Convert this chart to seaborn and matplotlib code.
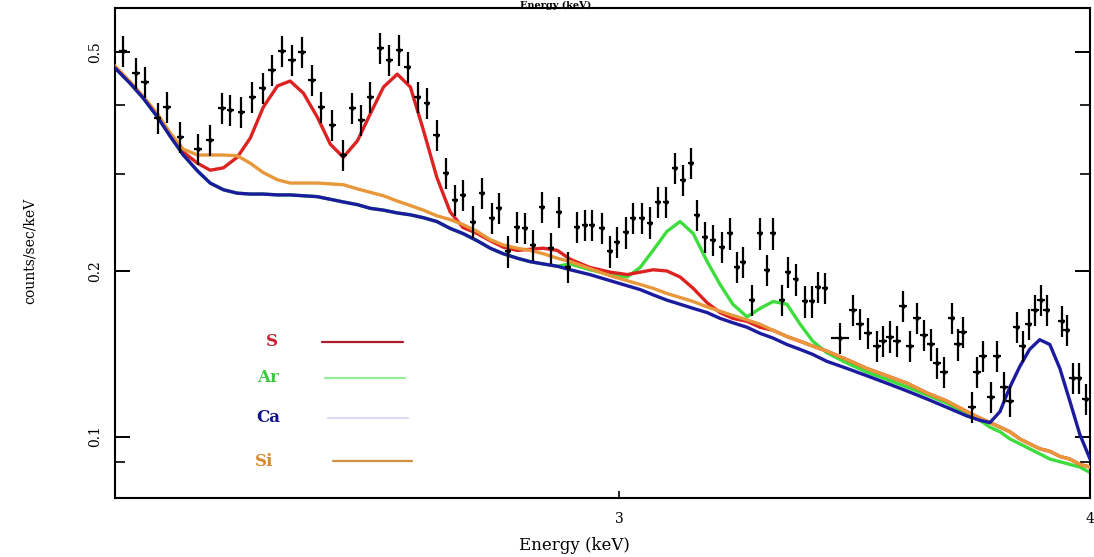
import matplotlib
matplotlib.use("Agg")
import matplotlib.pyplot as plt
import seaborn as sns
import numpy as np
import pandas as pd
from matplotlib.ticker import FixedLocator, FixedFormatter, NullLocator, NullFormatter
from matplotlib.lines import Line2D

# ---------------- data ----------------
energy = [2.216, 2.233, 2.246, 2.263, 2.276, 2.295, 2.320, 2.337, 2.354, 2.366,
          2.382, 2.398, 2.413, 2.427, 2.442, 2.457, 2.472, 2.487, 2.501, 2.518,
          2.535, 2.549, 2.563, 2.577, 2.593, 2.607, 2.623, 2.637, 2.653, 2.668,
          2.684, 2.699, 2.714, 2.727, 2.744, 2.759, 2.776, 2.788, 2.803, 2.819,
          2.833, 2.846, 2.862, 2.878, 2.892, 2.908, 2.924, 2.939, 2.951, 2.969,
          2.984, 2.996, 3.013, 3.026, 3.042, 3.057, 3.072, 3.087, 3.104, 3.120,
          3.135, 3.146, 3.162, 3.177, 3.195, 3.210, 3.224, 3.236, 3.254, 3.270,
          3.284, 3.296, 3.314, 3.326, 3.342, 3.361, 3.375, 3.388, 3.402, 3.433,
          3.461, 3.476, 3.493, 3.512, 3.525, 3.540, 3.555, 3.568, 3.583, 3.599,
          3.614, 3.630, 3.643, 3.659, 3.676, 3.690, 3.701, 3.722, 3.733, 3.747,
          3.765, 3.779, 3.795, 3.809, 3.825, 3.839, 3.853, 3.868, 3.882, 3.896,
          3.932, 3.944, 3.958, 3.973, 3.990]

counts = [0.502, 0.458, 0.441, 0.380, 0.397, 0.350, 0.333, 0.346, 0.396, 0.392,
          0.389, 0.414, 0.430, 0.464, 0.502, 0.484, 0.500, 0.445, 0.397, 0.369,
          0.325, 0.396, 0.376, 0.414, 0.509, 0.484, 0.504, 0.470, 0.414, 0.404,
          0.353, 0.301, 0.269, 0.275, 0.246, 0.277, 0.250, 0.260, 0.217, 0.240,
          0.239, 0.223, 0.261, 0.220, 0.256, 0.203, 0.240, 0.242, 0.242, 0.239,
          0.217, 0.226, 0.235, 0.250, 0.250, 0.245, 0.267, 0.267, 0.308, 0.293,
          0.314, 0.253, 0.231, 0.228, 0.221, 0.234, 0.203, 0.208, 0.177, 0.234,
          0.201, 0.234, 0.177, 0.199, 0.193, 0.176, 0.176, 0.187, 0.186, 0.151,
          0.170, 0.160, 0.154, 0.146, 0.149, 0.152, 0.149, 0.173, 0.146, 0.164,
          0.153, 0.147, 0.136, 0.131, 0.164, 0.147, 0.155, 0.113, 0.131, 0.140,
          0.118, 0.140, 0.123, 0.116, 0.158, 0.146, 0.160, 0.170, 0.177, 0.170,
          0.162, 0.156, 0.128, 0.128, 0.117]

# half bin widths (keV) and count errors
energy_halfbin = [0.0055] * 79 + [0.019] + [0.0085] * 35
count_err_frac = 0.065

model_energy = [2.205, 2.226, 2.243, 2.263, 2.281, 2.299, 2.319, 2.337, 2.356, 2.376,
                2.395, 2.414, 2.435, 2.454, 2.474, 2.495, 2.515, 2.535, 2.557, 2.577,
                2.598, 2.620, 2.641, 2.662, 2.684, 2.706, 2.727, 2.751, 2.773, 2.795,
                2.819, 2.841, 2.864, 2.889, 2.912, 2.947, 2.984, 3.015, 3.039, 3.063,
                3.089, 3.114, 3.139, 3.166, 3.191, 3.216, 3.244, 3.270, 3.296, 3.324,
                3.351, 3.377, 3.406, 3.448, 3.490, 3.533, 3.577, 3.621, 3.665, 3.710,
                3.740, 3.763, 3.786, 3.809, 3.832, 3.855, 3.879, 3.903, 3.927, 3.951,
                3.975, 4.000]

model_ca = [0.468, 0.438, 0.413, 0.381, 0.351, 0.325, 0.304, 0.289, 0.281, 0.277,
            0.276, 0.276, 0.275, 0.275, 0.274, 0.273, 0.270, 0.267, 0.264, 0.260,
            0.258, 0.255, 0.253, 0.250, 0.246, 0.239, 0.234, 0.227, 0.220, 0.215,
            0.211, 0.208, 0.206, 0.204, 0.201, 0.197, 0.192, 0.188, 0.185, 0.181,
            0.177, 0.174, 0.171, 0.168, 0.164, 0.161, 0.158, 0.154, 0.151, 0.147,
            0.144, 0.141, 0.137, 0.133, 0.129, 0.125, 0.121, 0.117, 0.113, 0.109,
            0.107, 0.106, 0.111, 0.123, 0.134, 0.144, 0.150, 0.147, 0.133, 0.116,
            0.101, 0.091]

model_ar = [0.468, 0.438, 0.413, 0.381, 0.351, 0.325, 0.304, 0.289, 0.281, 0.277,
            0.276, 0.276, 0.275, 0.275, 0.274, 0.273, 0.270, 0.267, 0.264, 0.260,
            0.258, 0.255, 0.253, 0.250, 0.246, 0.239, 0.234, 0.227, 0.220, 0.215,
            0.211, 0.208, 0.206, 0.204, 0.206, 0.201, 0.197, 0.195, 0.203, 0.218,
            0.236, 0.246, 0.234, 0.208, 0.189, 0.174, 0.165, 0.171, 0.176, 0.174,
            0.160, 0.149, 0.142, 0.136, 0.131, 0.127, 0.123, 0.119, 0.115, 0.110,
            0.107, 0.104, 0.102, 0.099, 0.097, 0.095, 0.093, 0.091, 0.090, 0.089,
            0.088, 0.086]

model_si = [0.472, 0.441, 0.416, 0.386, 0.356, 0.333, 0.325, 0.325, 0.325, 0.324,
            0.314, 0.302, 0.293, 0.289, 0.289, 0.289, 0.288, 0.287, 0.282, 0.278,
            0.274, 0.268, 0.263, 0.258, 0.252, 0.248, 0.243, 0.236, 0.228, 0.223,
            0.220, 0.218, 0.215, 0.211, 0.208, 0.202, 0.196, 0.192, 0.189, 0.186,
            0.182, 0.179, 0.176, 0.172, 0.169, 0.166, 0.163, 0.160, 0.156, 0.152,
            0.149, 0.146, 0.143, 0.138, 0.133, 0.129, 0.125, 0.120, 0.116, 0.111,
            0.108, 0.106, 0.104, 0.102, 0.099, 0.097, 0.095, 0.094, 0.092, 0.091,
            0.089, 0.088]

model_s = [0.470, 0.439, 0.414, 0.383, 0.352, 0.329, 0.314, 0.305, 0.308, 0.322,
           0.349, 0.397, 0.434, 0.443, 0.421, 0.381, 0.340, 0.322, 0.345, 0.386,
           0.432, 0.456, 0.432, 0.361, 0.296, 0.256, 0.240, 0.234, 0.227, 0.221,
           0.218, 0.219, 0.220, 0.218, 0.210, 0.203, 0.199, 0.197, 0.199, 0.201,
           0.200, 0.195, 0.186, 0.175, 0.168, 0.164, 0.162, 0.158, 0.156, 0.152,
           0.149, 0.146, 0.143, 0.138, 0.133, 0.129, 0.125, 0.120, 0.116, 0.111,
           0.108, 0.106, 0.104, 0.102, 0.099, 0.097, 0.095, 0.094, 0.092, 0.091,
           0.089, 0.088]

legend_labels = ["S", "Ar", "Ca", "Si"]
x_tick_values = [3, 4]
x_tick_labels = ["3", "4"]
y_tick_values = [0.1, 0.2, 0.5]
y_tick_labels = ["0.1", "0.2", "0.5"]
y_minor_values = [0.09, 0.3, 0.4]

# ---------------- styling ----------------
sns.set_theme(style="white")
plt.rcParams["font.family"] = ["DejaVu Serif"]

W, H = 1094, 557
fig = plt.figure(figsize=(W / 100, H / 100), dpi=100)
ax = fig.add_axes([115 / W, 1 - 498 / H, 975 / W, 490 / H])
ax.set_xscale("log")
ax.set_yscale("log")

c_red = "#dd2222"
c_green = "#3ddd3d"
c_blue = "#1b1ba0"
c_orange = "#e8973a"

models = pd.DataFrame({"E": model_energy, "S": model_s, "Ar": model_ar,
                       "Ca": model_ca, "Si": model_si})
for col, color, z in [("Ar", c_green, 2), ("S", c_red, 3), ("Si", c_orange, 4), ("Ca", c_blue, 5)]:
    sns.lineplot(data=models, x="E", y=col, color=color, lw=2.4, ax=ax,
                 estimator=None, sort=False, legend=False, zorder=z)

counts_arr = np.array(counts)
ax.errorbar(energy, counts, xerr=energy_halfbin, yerr=counts_arr * count_err_frac,
            fmt="o", ms=2.2, color="black", ecolor="black", elinewidth=1.6,
            capsize=0, zorder=6)

ax.set_xlim(2.205, 4.0)
ax.set_ylim(0.0773, 0.6015)

ax.xaxis.set_major_locator(FixedLocator(x_tick_values))
ax.xaxis.set_major_formatter(FixedFormatter(x_tick_labels))
ax.xaxis.set_minor_locator(NullLocator())
ax.yaxis.set_major_locator(FixedLocator(y_tick_values))
ax.yaxis.set_major_formatter(FixedFormatter(y_tick_labels))
ax.yaxis.set_minor_locator(FixedLocator(y_minor_values))
ax.yaxis.set_minor_formatter(NullFormatter())

ax.tick_params(axis="y", which="major", direction="in", length=11, width=1.4,
               left=True, right=True, labelsize=10, pad=9, colors="black")
ax.tick_params(axis="y", which="minor", direction="in", length=7, width=1.4,
               left=True, right=True)
ax.tick_params(axis="x", which="major", direction="in", length=5, width=1.2,
               bottom=True, top=False, labelsize=10, pad=10, colors="black")
for lab in ax.get_yticklabels():
    lab.set_rotation(90)
    lab.set_va("center")

for sp in ax.spines.values():
    sp.set_color("black")
    sp.set_linewidth(1.5)
ax.set_xlabel("")
ax.set_ylabel("")

# axis titles
fig.text(574 / W, 1 - 546 / H, "Energy (keV)", ha="center", va="center",
         fontsize=12, color="black")
fig.text(556 / W, 1 - 0.5 / H, "Energy (keV)", ha="center", va="top",
         fontsize=7, color="black", fontweight="bold")
fig.text(30 / W, 1 - 251 / H, "counts/sec/keV", ha="center", va="center",
         rotation=90, fontsize=10, color="black")

# legend
leg_text_colors = ["#c42030", "#3cc83c", "#12128a", "#d48a2e"]
leg_line_colors = ["#a81c2a", "#98ee98", "#dcdcf4", "#d49040"]
leg_text_x = [272, 268, 268, 264]
leg_y = [342, 378, 418, 461]
leg_line_x = [(322, 403), (325, 405), (328, 408), (333, 412)]
for lab, tc, lc, tx, ly, (x0, x1) in zip(legend_labels, leg_text_colors, leg_line_colors,
                                          leg_text_x, leg_y, leg_line_x):
    fig.text(tx / W, 1 - ly / H, lab, ha="center", va="center", fontsize=12,
             fontweight="bold", color=tc)
    fig.add_artist(Line2D([x0 / W, x1 / W], [1 - ly / H, 1 - ly / H],
                          transform=fig.transFigure, color=lc, lw=1.6))

fig.savefig("out.png", dpi=100)
